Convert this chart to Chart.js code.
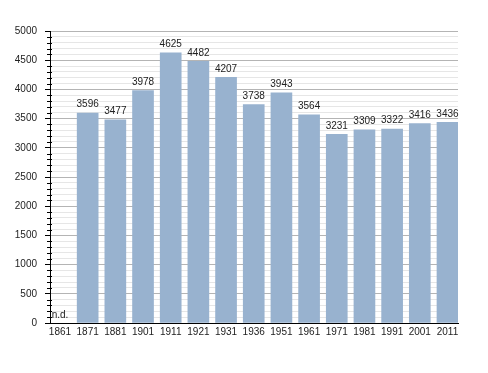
<!DOCTYPE html>
<html>
<head>
<meta charset="utf-8">
<script src="https://cdn.jsdelivr.net/npm/chart.js@4/dist/chart.umd.min.js"></script>
<style>
  html, body { margin: 0; padding: 0; background: #fff; }
  canvas { display: block; }
</style>
</head>
<body>
<canvas id="pop" width="488" height="373"></canvas>
<script>
const years = ['1861', '1871', '1881', '1901', '1911', '1921', '1931', '1936', '1951', '1961', '1971', '1981', '1991', '2001', '2011'];
const population = [null, 3596, 3477, 3978, 4625, 4482, 4207, 3738, 3943, 3564, 3231, 3309, 3322, 3416, 3436];
const yTicks = [0, 500, 1000, 1500, 2000, 2500, 3000, 3500, 4000, 4500, 5000];

const FONT = "'Liberation Sans', Arial, sans-serif";

// etichette sopra le barre + "n.d." dove manca il dato, e tacche minori
const barLabels = {
  id: 'barLabels',
  afterDatasetsDraw(chart) {
    const { ctx, scales: { x, y } } = chart;
    ctx.save();
    ctx.font = '10px ' + FONT;
    ctx.fillStyle = '#222';
    ctx.textAlign = 'center';
    ctx.textBaseline = 'alphabetic';
    population.forEach((v, i) => {
      const px = x.getPixelForValue(i);
      if (v === null) {
        ctx.fillText('n.d.', px, y.getPixelForValue(0) - 5.5);
      } else {
        ctx.fillText(String(v), px, y.getPixelForValue(v) - 5.5);
      }
    });
    ctx.restore();
  },
  afterDraw(chart) {
    const { ctx, chartArea, scales: { y } } = chart;
    ctx.save();
    ctx.strokeStyle = '#000';
    ctx.lineWidth = 1;
    for (let v = 100; v < 5000; v += 100) {
      if (v % 500 === 0) continue;
      const py = Math.round(y.getPixelForValue(v)) + 0.5;
      ctx.beginPath();
      ctx.moveTo(chartArea.left - 3, py);
      ctx.lineTo(chartArea.left + 2, py);
      ctx.stroke();
    }
    ctx.restore();
  }
};

new Chart(document.getElementById('pop'), {
  type: 'bar',
  data: {
    datasets: [{
      data: population.map((v, i) => ({ x: i, y: v })),
      backgroundColor: '#98b2cf',
      borderWidth: 0,
      barThickness: 21
    }]
  },
  options: {
    responsive: false,
    animation: false,
    events: [],
    layout: { padding: { top: 31, right: 30, bottom: 0, left: 0 } },
    plugins: {
      legend: { display: false },
      tooltip: { enabled: false }
    },
    scales: {
      x: {
        type: 'linear',
        offset: false,
        min: -0.361,
        max: 14.38,
        afterBuildTicks: (s) => { s.ticks = years.map((yr, i) => ({ value: i })); },
        afterFit: (s) => { s.height = 50; },
        grid: { display: false, drawTicks: false, offset: false },
        border: { display: true, color: '#000', width: 1 },
        ticks: {
          autoSkip: false,
          maxRotation: 0,
          padding: 3,
          color: '#222',
          font: { family: FONT, size: 10 },
          callback: (v) => years[v]
        }
      },
      y: {
        min: 0,
        max: 5000,
        afterFit: (s) => { s.width = 50; },
        grid: {
          color: (c) => (c.tick && c.tick.value % 500 === 0) ? '#b4b4b4' : '#e6e6e6',
          tickColor: (c) => (c.tick && c.tick.value % 500 === 0) ? '#000' : 'rgba(0,0,0,0)',
          tickLength: 5,
          drawTicks: true
        },
        border: { display: true, color: '#000', width: 1 },
        ticks: {
          stepSize: 100,
          maxTicksLimit: 100,
          autoSkip: false,
          padding: 8,
          color: '#222',
          font: { family: FONT, size: 10 },
          callback: (v) => yTicks.includes(v) ? String(v) : ''
        }
      }
    }
  },
  plugins: [barLabels]
});
</script>
</body>
</html>
